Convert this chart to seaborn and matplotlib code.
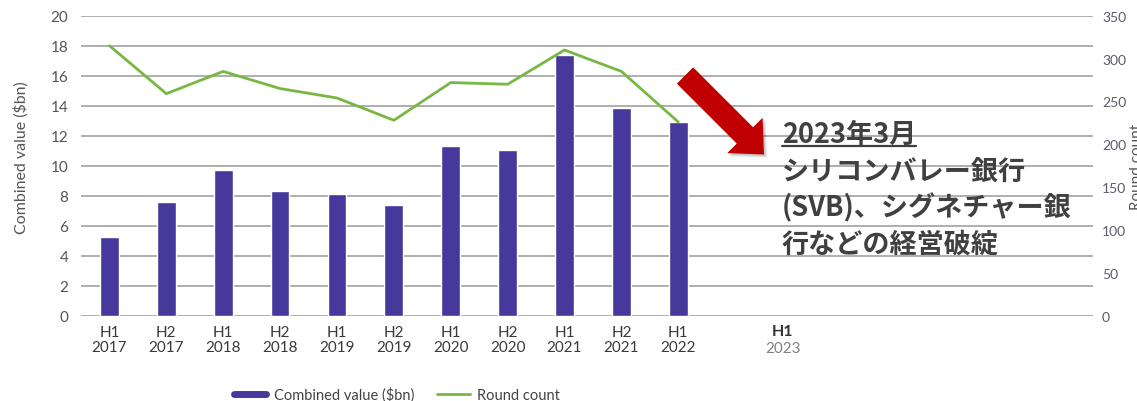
import numpy as np
import pandas as pd
import matplotlib
matplotlib.use("Agg")
import matplotlib.pyplot as plt
import matplotlib.transforms as mtransforms
from matplotlib.patches import FancyArrow
from matplotlib.lines import Line2D
import seaborn as sns

# values
periods = ["H1\n2017", "H2\n2017", "H1\n2018", "H2\n2018", "H1\n2019", "H2\n2019",
           "H1\n2020", "H2\n2020", "H1\n2021", "H2\n2021", "H1\n2022"]
combined_value = [5.25, 7.55, 9.7, 8.3, 8.1, 7.4, 11.3, 11.05, 17.4, 13.85, 12.9]
round_count = [315, 259, 285, 265, 254, 228, 272, 270, 310, 285, 226]
left_ticks = list(range(0, 21, 2))
right_ticks = list(range(0, 351, 50))
note_lines = ["2023年3月", "シリコンバレー銀行", "(SVB)、シグネチャー銀", "行などの経営破綻"]

BAR_COLOR = "#46399b"
LINE_COLOR = "#79b745"
GRID_COLOR = "#a8a8a8"
W, H = 1137, 402


def main():
    sns.set_style("white")
    plt.rcParams['font.family'] = ['Lato', 'Noto Sans CJK JP', 'DejaVu Sans']

    df = pd.DataFrame({'period': periods, 'value': combined_value,
                       'count': round_count, 'pos': np.arange(len(periods))})

    fig = plt.figure(figsize=(W / 100, H / 100), dpi=100)
    ax = fig.add_axes([81 / W, 1 - 316.7 / H, (1093 - 81) / W, 300 / H])

    sns.barplot(data=df, x='period', y='value', color=BAR_COLOR, width=0.33,
                saturation=1, errorbar=None, ax=ax, zorder=3)
    ax.set_xlim(-0.5, 17.29)
    ax.set_ylim(0, 20)
    ax.set_yticks(left_ticks)
    ax.yaxis.grid(True, color=GRID_COLOR, lw=1.3)
    ax.set_axisbelow(True)
    for s in ax.spines.values():
        s.set_visible(False)
    ax.tick_params(axis='x', length=0, pad=7, labelsize=11, labelcolor='#3a3a3a')
    ax.tick_params(axis='y', length=0, pad=9, labelsize=11, labelcolor='#555555')
    for lab in ax.get_xticklabels():
        lab.set_linespacing(1.05)
    ax.set_xlabel('')
    ax.set_ylabel('Combined value ($bn)', fontsize=11.5, color='#555555')
    ax.yaxis.set_label_coords(-0.052, 0.53)

    ax2 = ax.twinx()
    sns.lineplot(data=df, x='pos', y='count', color=LINE_COLOR, lw=2, ax=ax2)
    ax2.set_ylim(0, 350)
    ax2.set_yticks(right_ticks)
    ax2.set_xlim(-0.5, 17.29)
    for s in ax2.spines.values():
        s.set_visible(False)
    ax2.tick_params(axis='y', length=0, pad=6.5, labelsize=10, labelcolor='#5a5a6a')
    ax2.set_ylabel('Round count', fontsize=11, color='#555555')
    ax2.yaxis.set_label_coords(1.0366, 0.5)

    # H1 2023 label, pasted in further to the right
    xt = mtransforms.blended_transform_factory(ax.transData, fig.transFigure)
    ax.text(11.84, 1 - 332 / H, "H1", transform=xt, ha='center', va='center',
            fontsize=11.5, fontweight='bold', color='#333333')
    ax.text(11.84, 1 - 349 / H, "2023", transform=xt, ha='center', va='center',
            fontsize=11, color='#808080')

    # legend
    handles = [Line2D([], [], color=BAR_COLOR, lw=5),
               Line2D([], [], color=LINE_COLOR, lw=2)]
    fig.legend(handles, ['Combined value ($bn)', 'Round count'], ncol=2,
               loc='center', bbox_to_anchor=(397 / W, 1 - 395 / H), frameon=False,
               fontsize=10.5, handlelength=2.2, handletextpad=0.5,
               columnspacing=1.6, labelcolor='#444444')

    # red arrow with soft shadow
    px = mtransforms.IdentityTransform()
    for off, col, a in [(3, '#000000', 0.12), (1.5, '#000000', 0.12), (0, '#c00000', 1)]:
        fig.add_artist(FancyArrow(685 + off, H - 76.5 - off, 79, -79, width=23,
                                  head_width=50, head_length=27,
                                  length_includes_head=True, color=col,
                                  alpha=a, lw=0, transform=px))

    # annotation text
    baselines = [143, 180, 216, 253]
    for i, (line, b) in enumerate(zip(note_lines, baselines)):
        t = fig.text(782, H - b, line, transform=px, ha='left', va='baseline',
                     fontsize=19.5, fontweight='bold', color='#404040',
                     family=['Noto Sans CJK JP', 'DejaVu Sans'])
        if i == 0:
            fig.canvas.draw()
            bb = t.get_window_extent()
            fig.add_artist(Line2D([bb.x0, bb.x1], [H - 146.5, H - 146.5], lw=1.6,
                                  color='#404040', transform=px))

    fig.savefig('out.png', dpi=100)


if __name__ == '__main__':
    main()
